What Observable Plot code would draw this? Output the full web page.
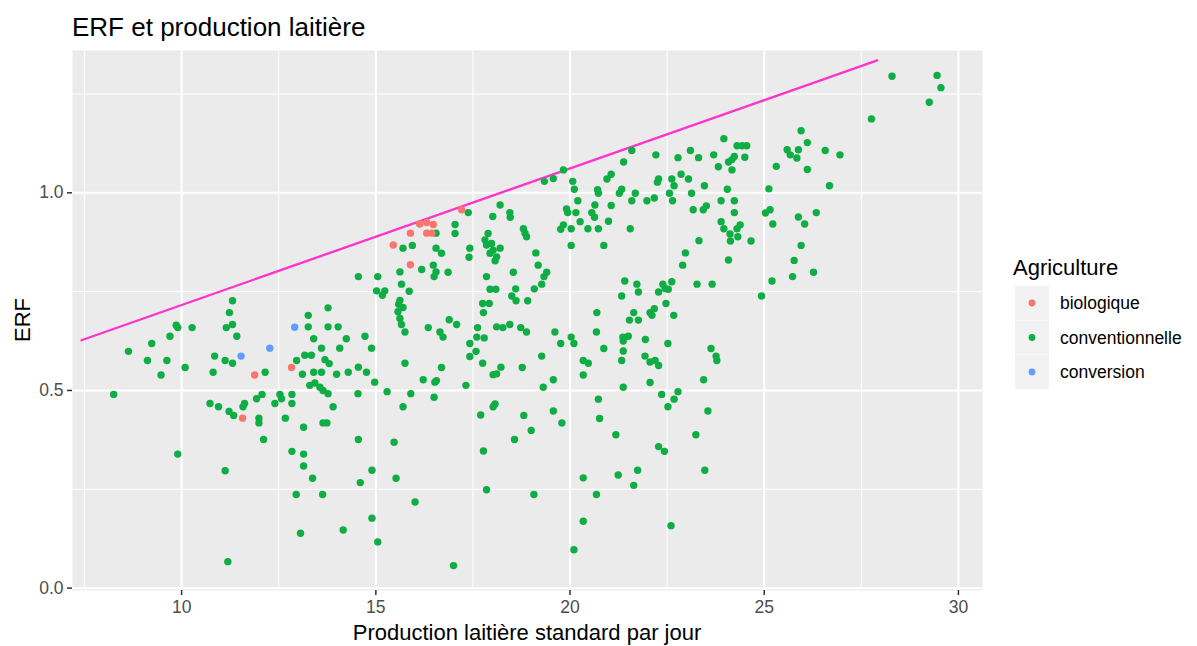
<!DOCTYPE html>
<html>
<head>
<meta charset="utf-8">
<script src="https://cdn.jsdelivr.net/npm/d3@7"></script>
<script src="https://cdn.jsdelivr.net/npm/@observablehq/plot@0.6"></script>
<style>
  body { margin: 0; background: #ffffff; }
  svg { display: block; }
</style>
</head>
<body>
<div id="chart"></div>
<script>
// Farm groups and their colours
const categories = ["biologique", "conventionnelle", "conversion"];
const palette = ["#F8766D", "#0fae44", "#619CFF"];

// Axis breaks
const xMajor = [10, 15, 20, 25, 30];
const xMinor = [7.5, 12.5, 17.5, 22.5, 27.5];
const yMajor = [0, 0.5, 1.0];
const yMinor = [0.25, 0.75, 1.25];

// Organic farms
const biologiqueX = [17.21, 16.13, 16.31, 16.48, 15.89, 16.31, 16.44, 15.45, 15.89, 11.88, 12.83, 11.57];
const biologiqueY = [0.957, 0.921, 0.925, 0.920, 0.898, 0.898, 0.898, 0.868, 0.818, 0.539, 0.558, 0.430];

// Farms in conversion
const conversionX = [11.53, 12.27, 12.91];
const conversionY = [0.587, 0.607, 0.660];

// Conventional farms
const conventionnelleX = [
  11.31, 11.23, 11.31, 11.15, 9.86, 9.90, 10.27, 11.42, 9.70, 9.23,
  8.63, 9.12, 9.62, 10.85, 11.12, 11.31, 10.09, 9.47, 10.81, 12.15,
  12.96, 8.25, 10.73, 10.95, 11.22, 11.34, 11.58, 11.62, 11.93, 12.07,
  11.99, 11.99, 12.53, 12.57, 12.40, 12.84, 12.84, 12.67, 12.11, 12.84,
  9.90, 11.12, 12.95, 11.19,
  17.38, 17.04, 17.04, 18.01, 17.89, 17.81, 17.85, 17.98, 18.02, 17.94,
  18.07, 17.42, 17.40, 15.70, 15.94, 16.55, 16.69, 16.48, 16.18, 16.55,
  16.50, 16.86, 15.62, 14.55, 15.05, 15.66, 15.02, 15.23, 15.17, 15.86,
  17.85, 17.94, 18.09, 15.62, 15.59, 15.70, 15.57, 15.62, 15.66, 15.75,
  13.77, 13.26, 13.26, 13.77, 14.03, 14.72, 14.24, 14.89, 14.07, 13.60,
  13.40, 13.17, 13.34, 13.69, 13.80, 13.11, 13.40, 13.60, 13.99, 14.29,
  14.55, 14.76, 14.97, 15.75, 16.35, 16.65, 16.73, 16.89, 17.08, 17.75,
  17.92, 17.77, 17.62, 17.60, 17.79, 17.42, 17.58, 17.42, 17.75, 18.11,
  16.69, 16.56, 16.52, 16.22, 18.02, 18.11, 17.32, 13.30, 13.43, 13.56,
  13.64, 13.77, 14.54, 15.29, 15.90, 16.50, 16.55,
  15.70, 13.90, 18.07, 18.02, 17.70, 13.14, 13.64, 13.74, 14.55, 15.47,
  17.77, 13.14, 13.14, 13.37, 14.90, 14.60, 15.52, 17.85, 13.63, 16.01,
  14.90, 14.16, 13.06, 15.05, 17.00,
  19.83, 19.34, 19.57, 20.07, 20.11, 18.20, 18.45, 18.46, 20.20, 19.91,
  19.94, 20.15, 19.83, 19.76, 20.03, 20.26, 20.46, 20.73, 20.99, 20.03,
  20.87, 20.56, 20.63, 20.64, 20.71, 20.73, 21.06, 20.95, 21.06, 21.27,
  21.33, 21.38, 21.59, 21.68, 21.59, 21.98, 22.17, 21.55, 22.21, 22.28,
  22.25, 22.56, 22.62, 22.68, 22.64, 22.78, 22.86, 23.05, 23.10, 23.31,
  23.13, 23.46, 23.17, 23.43, 23.51, 23.70, 23.96, 23.82, 24.08, 24.17,
  24.23, 24.17, 24.30, 24.43, 24.05, 23.89, 24.23, 24.23, 23.89, 23.96,
  24.38, 24.30, 24.12, 24.32, 24.13, 23.32, 24.08, 22.97, 22.90, 23.27,
  23.66, 18.80, 18.84, 18.88, 18.20, 18.11, 19.12, 19.18, 18.54, 19.40,
  19.33, 19.27, 19.08, 18.60, 18.50, 18.61, 18.91, 21.41, 21.72, 21.76,
  21.33, 22.28, 22.39, 22.45, 22.53, 22.62, 22.47, 22.67, 20.69, 21.64,
  21.53, 21.76, 22.06, 22.17, 22.11, 18.27, 18.45, 18.73, 18.88, 19.61,
  20.03, 20.10, 19.76, 20.68, 21.36, 21.50, 21.94, 22.52, 20.87, 21.37,
  21.33, 19.27, 20.34, 20.47, 21.93, 22.06, 22.19, 22.28, 23.63, 23.76,
  23.78, 18.22, 18.77, 21.37,
  20.34, 19.57, 19.31, 21.37, 22.06, 23.44, 22.36, 22.78, 22.68, 22.52,
  20.73, 18.81, 19.57, 19.79, 19.00, 18.57, 20.76, 21.18, 23.55, 23.24,
  22.28, 22.43, 20.34, 21.24, 21.74, 21.64, 23.47, 19.07, 20.68, 20.34,
  22.60, 20.10,
  28.29, 29.45, 29.55, 29.25, 27.76, 25.95, 26.11, 24.55, 24.50, 25.59,
  25.67, 25.88, 25.84, 26.57, 26.95, 25.31, 26.11, 26.68, 25.12, 25.03,
  25.15, 25.22, 24.66, 25.88, 26.04, 26.34, 25.95, 25.77, 26.27, 25.73,
  25.20, 24.93
];
const conventionnelleY = [
  0.727, 0.697, 0.667, 0.659, 0.665, 0.659, 0.659, 0.637, 0.637, 0.619,
  0.599, 0.576, 0.576, 0.587, 0.576, 0.569, 0.558, 0.539, 0.546, 0.546,
  0.576, 0.490, 0.467, 0.459, 0.447, 0.437, 0.459, 0.467, 0.479, 0.490,
  0.430, 0.418, 0.490, 0.479, 0.467, 0.490, 0.467, 0.430, 0.376, 0.346,
  0.339, 0.297, 0.237, 0.067,
  0.950, 0.920, 0.897, 0.940, 0.897, 0.881, 0.868, 0.872, 0.855, 0.847,
  0.828, 0.860, 0.837, 0.860, 0.867, 0.860, 0.847, 0.817, 0.806, 0.800,
  0.788, 0.799, 0.800, 0.788, 0.788, 0.769, 0.752, 0.752, 0.741, 0.751,
  0.788, 0.756, 0.756, 0.728, 0.718, 0.710, 0.699, 0.682, 0.667, 0.648,
  0.709, 0.690, 0.661, 0.661, 0.661, 0.637, 0.631, 0.607, 0.607, 0.607,
  0.631, 0.589, 0.589, 0.578, 0.568, 0.541, 0.546, 0.546, 0.541, 0.546,
  0.559, 0.546, 0.521, 0.569, 0.659, 0.648, 0.635, 0.679, 0.667, 0.720,
  0.720, 0.697, 0.659, 0.635, 0.633, 0.619, 0.599, 0.586, 0.569, 0.661,
  0.558, 0.525, 0.521, 0.527, 0.540, 0.542, 0.513, 0.513, 0.519, 0.508,
  0.500, 0.492, 0.492, 0.497, 0.492, 0.483, 0.898,
  0.459, 0.459, 0.466, 0.459, 0.438, 0.407, 0.418, 0.418, 0.376, 0.369,
  0.347, 0.339, 0.309, 0.278, 0.298, 0.267, 0.278, 0.249, 0.237, 0.218,
  0.177, 0.147, 0.139, 0.117, 0.057,
  1.058, 1.029, 1.036, 1.029, 1.009, 0.969, 0.950, 0.938, 0.980, 0.959,
  0.950, 0.950, 0.919, 0.908, 0.909, 0.927, 0.909, 0.909, 0.928, 0.867,
  0.867, 0.950, 0.938, 0.969, 1.008, 0.999, 0.968, 1.035, 1.047, 0.999,
  1.009, 1.078, 1.107, 0.999, 0.980, 0.980, 0.987, 0.909, 1.096, 1.035,
  1.027, 0.999, 1.035, 1.018, 0.980, 1.089, 1.047, 1.035, 1.107, 1.089,
  0.999, 1.018, 0.957, 0.957, 0.967, 1.096, 1.137, 1.066, 1.078, 1.084,
  1.092, 1.058, 1.119, 1.119, 1.009, 0.980, 0.980, 0.950, 0.927, 0.909,
  0.919, 0.909, 0.896, 0.889, 0.878, 0.879, 0.830, 0.848, 0.817, 0.769,
  0.769, 0.909, 0.898, 0.889, 0.860, 0.838, 0.848, 0.817, 0.799, 0.799,
  0.788, 0.769, 0.757, 0.757, 0.739, 0.727, 0.727, 0.777, 0.769, 0.749,
  0.739, 0.749, 0.769, 0.758, 0.756, 0.775, 0.720, 0.690, 0.697, 0.697,
  0.678, 0.678, 0.697, 0.707, 0.690, 0.659, 0.667, 0.659, 0.648, 0.648,
  0.635, 0.619, 0.619, 0.648, 0.635, 0.637, 0.629, 0.619, 0.606, 0.600,
  0.576, 0.587, 0.576, 0.569, 0.587, 0.572, 0.576, 0.563, 0.606, 0.587,
  0.576, 0.559, 0.558, 0.625,
  0.539, 0.527, 0.508, 0.508, 0.520, 0.527, 0.490, 0.497, 0.478, 0.459,
  0.478, 0.437, 0.448, 0.418, 0.399, 0.376, 0.429, 0.388, 0.448, 0.388,
  0.358, 0.346, 0.279, 0.286, 0.298, 0.260, 0.298, 0.237, 0.237, 0.169,
  0.158, 0.097,
  1.295, 1.297, 1.266, 1.229, 1.187, 1.157, 1.127, 1.119, 1.090, 1.109,
  1.096, 1.109, 1.088, 1.107, 1.096, 1.067, 1.059, 1.018, 1.010, 0.949,
  0.957, 0.921, 0.878, 0.939, 0.921, 0.950, 0.867, 0.829, 0.799, 0.788,
  0.777, 0.739
];

// Upper boundary line
const frontierX = [7.42, 27.91];
const frontierY = [0.627, 1.335];

const toRows = (xs, ys, g) => xs.map((x, i) => ({x, y: ys[i], g}));
const points = [
  ...toRows(conventionnelleX, conventionnelleY, "conventionnelle"),
  ...toRows(biologiqueX, biologiqueY, "biologique"),
  ...toRows(conversionX, conversionY, "conversion")
];
const frontier = frontierX.map((x, i) => ({x, y: frontierY[i]}));

const font = "'Liberation Sans', Arial, sans-serif";

const chart = Plot.plot({
  width: 1197,
  height: 646,
  marginLeft: 72,
  marginRight: 215,
  marginTop: 50,
  marginBottom: 56,
  style: {fontFamily: font, background: "#ffffff", overflow: "visible"},
  x: {domain: [7.19, 30.62]},
  y: {domain: [-0.006, 1.36]},
  color: {domain: categories, range: palette},
  marks: [
    Plot.frame({fill: "#EBEBEB", stroke: "none"}),
    Plot.ruleX(xMinor, {stroke: "#ffffff", strokeWidth: 1}),
    Plot.ruleY(yMinor, {stroke: "#ffffff", strokeWidth: 1}),
    Plot.ruleX(xMajor, {stroke: "#ffffff", strokeWidth: 2}),
    Plot.ruleY(yMajor, {stroke: "#ffffff", strokeWidth: 2}),
    Plot.axisX(xMajor, {
      tickSize: 5, tickPadding: 5, fontSize: 17.5, strokeWidth: 1.5,
      stroke: "#333333", fill: "#4D4D4D", label: null, tickFormat: d => String(d)
    }),
    Plot.axisY(yMajor, {
      tickSize: 5, tickPadding: 4, fontSize: 17.5, strokeWidth: 1.5,
      stroke: "#333333", fill: "#4D4D4D", label: null, tickFormat: d3.format(".1f")
    }),
    Plot.line(frontier, {x: "x", y: "y", stroke: "#ff33cc", strokeWidth: 2.3}),
    Plot.dot(points, {x: "x", y: "y", fill: "g", r: 3.7, stroke: "none"})
  ]
});

document.getElementById("chart").appendChild(chart);

// Titles and legend drawn into the same SVG
const svg = d3.select(chart);
const color = chart.scale("color");

svg.append("text")
  .attr("x", 72).attr("y", 36)
  .attr("text-anchor", "start")
  .attr("font-family", font).attr("font-size", 26).attr("fill", "#000")
  .text("ERF et production laitière");

svg.append("text")
  .attr("x", 527).attr("y", 640)
  .attr("text-anchor", "middle")
  .attr("font-family", font).attr("font-size", 22).attr("fill", "#000")
  .text("Production laitière standard par jour");

svg.append("text")
  .attr("transform", "translate(30,320) rotate(-90)")
  .attr("text-anchor", "middle")
  .attr("font-family", font).attr("font-size", 22).attr("fill", "#000")
  .text("ERF");

const legend = svg.append("g")
  .attr("font-family", font)
  .attr("text-anchor", "start");
legend.append("text")
  .attr("x", 1013).attr("y", 275)
  .attr("font-size", 22).attr("fill", "#000")
  .text("Agriculture");

const keys = legend.selectAll("g.key").data(categories).join("g")
  .attr("class", "key")
  .attr("transform", (d, i) => `translate(1015,${286 + i * 34.5})`);
keys.append("rect")
  .attr("width", 34).attr("height", 34).attr("fill", "#F2F2F2");
keys.append("circle")
  .attr("cx", 17).attr("cy", 17).attr("r", 3.4)
  .attr("fill", d => color.apply(d));
keys.append("text")
  .attr("x", 45).attr("y", 23)
  .attr("font-size", 17.5).attr("fill", "#000")
  .text(d => d);
</script>
</body>
</html>
